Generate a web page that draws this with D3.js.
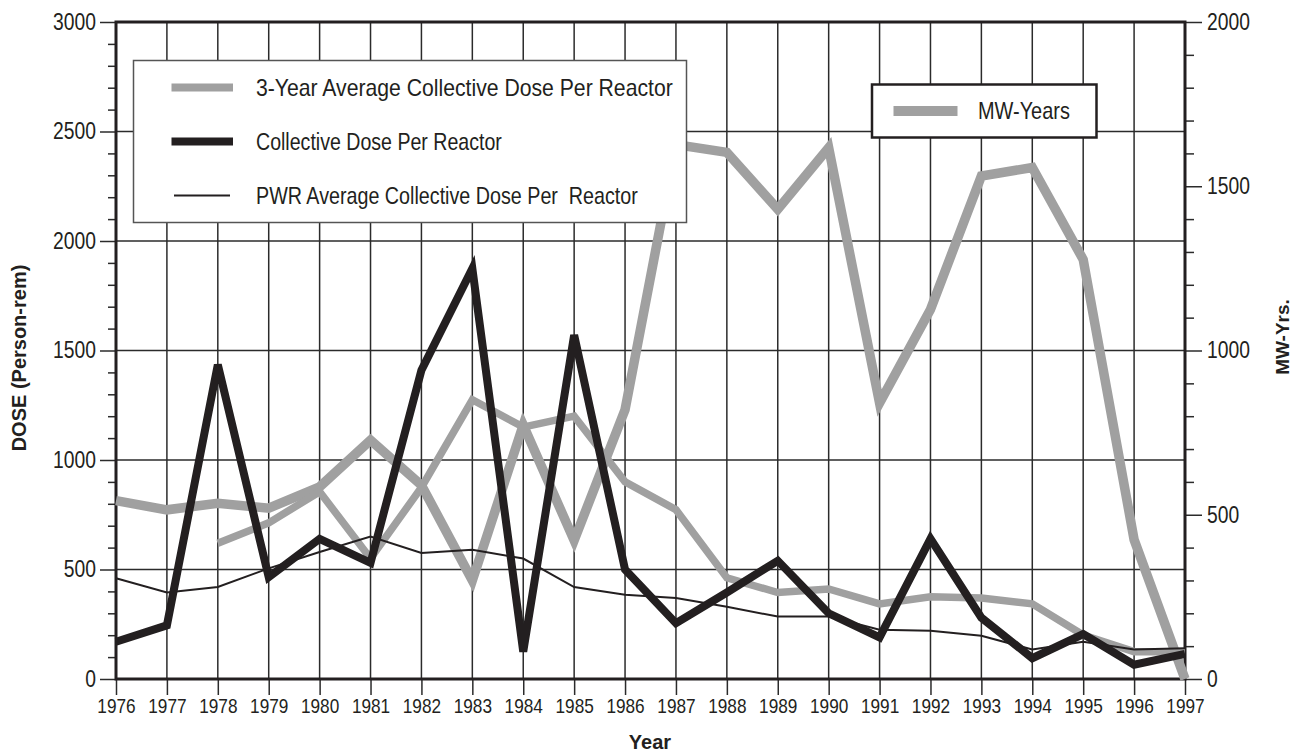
<!DOCTYPE html>
<html>
<head>
<meta charset="utf-8">
<script src="https://cdn.jsdelivr.net/npm/d3@7"></script>
<style>
  html, body { margin: 0; padding: 0; background: #fff; }
  svg { display: block; }
  .cond { font-family: "Liberation Sans", Arial, sans-serif; }
  .bold { font-family: "Liberation Sans", Arial, sans-serif; font-weight: bold; }
</style>
</head>
<body>
<svg id="chart" width="1294" height="755"></svg>
<script>
// ---- data ----
const years = [1976, 1977, 1978, 1979, 1980, 1981, 1982, 1983, 1984, 1985, 1986,
               1987, 1988, 1989, 1990, 1991, 1992, 1993, 1994, 1995, 1996, 1997];
const collectiveDose = [170, 245, 1435, 465, 640, 530, 1410, 1875, 125, 1570, 500,
                        255, 395, 540, 300, 190, 640, 280, 95, 205, 65, 115];
const pwrAvgDose = [460, 395, 420, 505, 580, 650, 575, 590, 550, 420, 385,
                    370, 330, 285, 285, 225, 220, 197, 135, 170, 135, 140];
const threeYearYears = [1978, 1979, 1980, 1981, 1982, 1983, 1984, 1985, 1986, 1987,
                        1988, 1989, 1990, 1991, 1992, 1993, 1994, 1995, 1996, 1997];
const threeYearAvgDose = [620, 713, 855, 550, 875, 1275, 1150, 1200, 900, 773,
                          462, 395, 411, 343, 375, 370, 343, 201, 125, 125];
const mwYears = [543, 515, 535, 520, 585, 727, 590, 300, 773, 422, 820,
                 1627, 1603, 1430, 1617, 840, 1125, 1531, 1557, 1277, 424, 0];
const doseTicks = [0, 500, 1000, 1500, 2000, 2500, 3000];
const mwTicks = [0, 500, 1000, 1500, 2000];
const legendLabels = ["3-Year Average Collective Dose Per Reactor",
                      "Collective Dose Per Reactor",
                      "PWR Average Collective Dose Per  Reactor"];
const mwLegendLabel = "MW-Years";

// ---- layout ----
const L = 116, R = 1185, T = 22, B = 679;
const svg = d3.select("#chart");
const x = d3.scaleLinear().domain([1976, 1997]).range([L, R]);
const yL = d3.scaleLinear().domain([0, 3000]).range([B, T]);
const yR = d3.scaleLinear().domain([0, 2000]).range([B, T]);

const GRID = "#2b2b2b", BLACK = "#231f20", GRAY = "#a0a0a0", TEXT = "#231f20";

// gridlines
svg.append("g").selectAll("line").data(years.slice(1, -1)).join("line")
  .attr("x1", d => x(d)).attr("x2", d => x(d)).attr("y1", T).attr("y2", B)
  .attr("stroke", GRID).attr("stroke-width", 1.5);
svg.append("g").selectAll("line").data(doseTicks.slice(1, -1)).join("line")
  .attr("x1", L).attr("x2", R).attr("y1", d => yL(d)).attr("y2", d => yL(d))
  .attr("stroke", GRID).attr("stroke-width", 1.5);

// axes
function styleAxis(g, fs, sx) {
  g.select(".domain").remove();
  g.selectAll(".tick line").attr("stroke", GRID).attr("stroke-width", 1.5);
  g.selectAll(".tick text").attr("class", "cond").attr("font-size", fs).attr("fill", TEXT)
    .each(function () {
      const t = d3.select(this);
      const x0 = +t.attr("x") || 0;
      t.attr("x", x0 / sx).attr("transform", `scale(${sx},1)`);
    });
}
const minorDose = d3.range(0, 3001, 100).filter(d => d % 500 !== 0);
const minorMW = d3.range(0, 2001, 100).filter(d => d % 500 !== 0);
const fmt = d3.format("d");

svg.append("g").attr("transform", `translate(${L},0)`)
  .call(d3.axisLeft(yL).tickValues(minorDose).tickSize(8).tickFormat(""))
  .call(g => styleAxis(g, 0, 1));
svg.append("g").attr("transform", `translate(${L},0)`)
  .call(d3.axisLeft(yL).tickValues(doseTicks).tickSize(16).tickPadding(4).tickFormat(fmt))
  .call(g => styleAxis(g, 23, 0.84));

svg.append("g").attr("transform", `translate(${R},0)`)
  .call(d3.axisRight(yR).tickValues(minorMW).tickSize(9).tickFormat(""))
  .call(g => styleAxis(g, 0, 1));
svg.append("g").attr("transform", `translate(${R},0)`)
  .call(d3.axisRight(yR).tickValues(mwTicks).tickSize(17).tickPadding(5).tickFormat(fmt))
  .call(g => styleAxis(g, 23, 0.84));

svg.append("g").attr("transform", `translate(0,${B})`)
  .call(d3.axisBottom(x).tickValues(years).tickFormat(fmt).tickSize(16).tickPadding(3))
  .call(g => styleAxis(g, 21, 0.82));

// frame
svg.append("rect").attr("x", L).attr("y", T).attr("width", R - L).attr("height", B - T)
  .attr("fill", "none").attr("stroke", BLACK).attr("stroke-width", 3);

// lines
const doseLine = d3.line().x(d => x(d[0])).y(d => yL(d[1]));
const mwLine = d3.line().x(d => x(d[0])).y(d => yR(d[1]));

svg.append("path").datum(years.map((y, i) => [y, mwYears[i]]))
  .attr("d", mwLine).attr("fill", "none").attr("stroke", GRAY).attr("stroke-width", 9.5)
  .attr("stroke-linejoin", "miter");
svg.append("path").datum(threeYearYears.map((y, i) => [y, threeYearAvgDose[i]]))
  .attr("d", doseLine).attr("fill", "none").attr("stroke", GRAY).attr("stroke-width", 7.5)
  .attr("stroke-linejoin", "miter");
svg.append("path").datum(years.map((y, i) => [y, collectiveDose[i]]))
  .attr("d", doseLine).attr("fill", "none").attr("stroke", BLACK).attr("stroke-width", 8)
  .attr("stroke-linejoin", "miter");
svg.append("path").datum(years.map((y, i) => [y, pwrAvgDose[i]]))
  .attr("d", doseLine).attr("fill", "none").attr("stroke", BLACK).attr("stroke-width", 2);

// legend 1
const lg = svg.append("g");
lg.append("rect").attr("x", 133.5).attr("y", 60.5).attr("width", 553).attr("height", 162)
  .attr("fill", "#fff").attr("stroke", "#555").attr("stroke-width", 1.5);
const legStyles = [
  {stroke: GRAY, w: 8, x1: 171.5, x2: 233, width: 417},
  {stroke: BLACK, w: 8, x1: 171.5, x2: 233, width: 246},
  {stroke: BLACK, w: 2, x1: 174, x2: 230, width: 382}
];
const legY = [87.5, 141.5, 195.5];
legendLabels.forEach((t, i) => {
  lg.append("line").attr("x1", legStyles[i].x1).attr("x2", legStyles[i].x2)
    .attr("y1", legY[i]).attr("y2", legY[i])
    .attr("stroke", legStyles[i].stroke).attr("stroke-width", legStyles[i].w);
  const txt = lg.append("text").attr("class", "cond")
    .attr("dy", "0.35em").attr("font-size", 24).attr("fill", TEXT)
    .style("white-space", "pre").text(t);
  const w = txt.node().getComputedTextLength() || 1;
  const s = Math.min(0.95, Math.max(0.75, legStyles[i].width / w));
  txt.attr("transform", `translate(256,${legY[i]}) scale(${s},1)`);
});

// legend 2
const lg2 = svg.append("g");
lg2.append("rect").attr("x", 872).attr("y", 84.5).attr("width", 224.5).attr("height", 53)
  .attr("fill", "#fff").attr("stroke", BLACK).attr("stroke-width", 2.5);
lg2.append("line").attr("x1", 893.5).attr("x2", 957.5).attr("y1", 111).attr("y2", 111)
  .attr("stroke", GRAY).attr("stroke-width", 10);
lg2.append("text").attr("class", "cond")
  .attr("transform", "translate(978,111) scale(0.83,1)").attr("dy", "0.35em")
  .attr("font-size", 24).attr("fill", TEXT).text(mwLegendLabel);

// axis titles
svg.append("text").attr("class", "bold").attr("font-size", 20).attr("fill", TEXT)
  .attr("text-anchor", "middle")
  .attr("transform", "translate(26,358) rotate(-90)").text("DOSE (Person-rem)");
svg.append("text").attr("class", "bold").attr("font-size", 19).attr("fill", TEXT)
  .attr("text-anchor", "middle")
  .attr("transform", "translate(1289,337) rotate(-90)").text("MW-Yrs.");
svg.append("text").attr("class", "bold").attr("font-size", 20).attr("fill", TEXT)
  .attr("text-anchor", "middle").attr("x", 650).attr("y", 749).text("Year");
</script>
</body>
</html>
